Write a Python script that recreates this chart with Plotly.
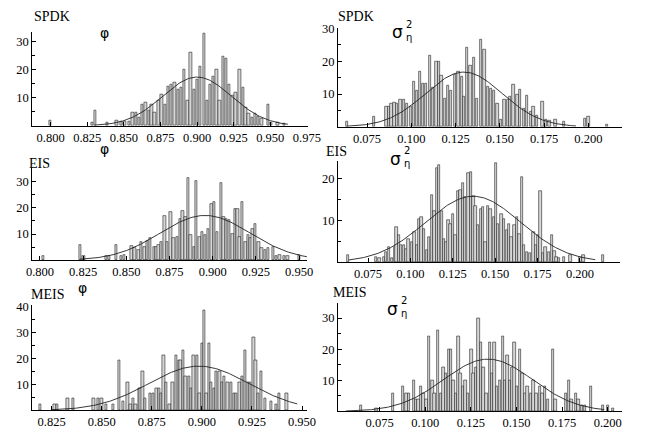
import numpy as np
import plotly.graph_objects as go

W, H = 646, 430

# ---------------- data ----------------
spdk_phi_x = [0.7996, 0.8286, 0.8304, 0.8385, 0.8451, 0.8484, 0.8506, 0.8535, 0.8561, 0.8583,
              0.8605, 0.8627, 0.8649, 0.8671, 0.8689, 0.8711, 0.8737, 0.8759, 0.8781, 0.8803,
              0.8825, 0.8847, 0.8869, 0.8891, 0.8913, 0.8935, 0.8957, 0.8979, 0.9001, 0.9023,
              0.9050, 0.9067, 0.9089, 0.9111, 0.9133, 0.9155, 0.9177, 0.9199, 0.9221, 0.9243,
              0.9265, 0.9292, 0.9314, 0.9331, 0.9353, 0.9375, 0.9397, 0.9419, 0.9441, 0.9485,
              0.9507, 0.9551, 0.9595]
spdk_phi_n = [2.0, 1.0, 5.5, 1.3, 2.0, 1.5, 1.5, 1.5, 4.8, 4.8,
              3.0, 7.7, 8.3, 5.4, 7.7, 4.8, 8.8, 11.0, 7.7, 14.0,
              14.7, 15.2, 13.0, 13.5, 20.0, 8.8, 26.0, 13.0, 16.4, 21.0,
              32.7, 8.8, 14.7, 17.6, 20.0, 8.8, 24.5, 24.0, 14.7, 10.6,
              11.7, 20.0, 13.5, 6.5, 4.2, 3.0, 4.2, 3.3, 2.4, 7.7,
              1.3, 1.3, 0.7]

spdk_s2_x = [0.0635, 0.0787, 0.0860, 0.0872, 0.0887, 0.0905, 0.0920, 0.0938, 0.0960, 0.0975,
             0.0996, 0.1015, 0.1033, 0.1047, 0.1066, 0.1084, 0.1106, 0.1124, 0.1142, 0.1157,
             0.1170, 0.1188, 0.1206, 0.1225, 0.1248, 0.1267, 0.1285, 0.1298, 0.1316, 0.1334,
             0.1352, 0.1371, 0.1394, 0.1413, 0.1431, 0.1449, 0.1467, 0.1486, 0.1507, 0.1526,
             0.1544, 0.1559, 0.1577, 0.1599, 0.1613, 0.1635, 0.1653, 0.1675, 0.1690, 0.1708,
             0.1741, 0.1759, 0.1781, 0.1814, 0.1863, 0.1982, 0.2000, 0.2106]
spdk_s2_n = [1.7, 3.0, 6.0, 6.0, 7.0, 7.4, 7.0, 8.2, 8.4, 7.2,
             6.0, 13.7, 11.0, 16.7, 13.2, 13.2, 21.7, 12.0, 20.0, 20.0,
             15.7, 8.7, 12.7, 11.0, 16.0, 16.7, 15.2, 9.2, 24.2, 18.7,
             21.2, 8.7, 26.7, 23.7, 12.2, 11.7, 11.0, 7.2, 2.2, 8.2,
             8.2, 9.2, 13.0, 9.7, 11.2, 5.4, 9.4, 4.7, 6.2, 3.4,
             7.7, 2.2, 2.0, 2.2, 1.5, 2.4, 3.0, 0.7]

eis_phi_x = [0.8019, 0.8231, 0.8253, 0.8384, 0.8399, 0.8441, 0.8469, 0.8488, 0.8531, 0.8549,
             0.8572, 0.8587, 0.8606, 0.8619, 0.8638, 0.8662, 0.8675, 0.8688, 0.8703, 0.8722,
             0.8737, 0.8756, 0.8774, 0.8793, 0.8812, 0.8827, 0.8844, 0.8857, 0.8872, 0.8891,
             0.8906, 0.8924, 0.8938, 0.8956, 0.8975, 0.8994, 0.9007, 0.9026, 0.9050, 0.9063,
             0.9078, 0.9097, 0.9116, 0.9131, 0.9144, 0.9157, 0.9172, 0.9191, 0.9206, 0.9219,
             0.9232, 0.9247, 0.9266, 0.9284, 0.9303, 0.9322, 0.9350, 0.9369, 0.9388, 0.9412,
             0.9434, 0.9500]
eis_phi_n = [1.7, 5.8, 1.5, 1.7, 1.7, 5.8, 1.5, 2.0, 5.6, 4.6,
             4.0, 7.0, 5.2, 7.4, 8.6, 5.2, 5.2, 5.8, 7.0, 17.0,
             7.0, 18.4, 8.4, 9.0, 15.9, 19.0, 16.5, 31.5, 9.6, 5.0,
             30.2, 9.0, 10.9, 9.6, 11.9, 21.5, 22.1, 10.9, 29.6, 16.5,
             15.6, 15.2, 10.2, 19.6, 19.6, 9.0, 22.1, 7.1, 9.6, 8.4,
             12.1, 14.0, 7.1, 4.6, 4.0, 4.6, 5.2, 1.5, 2.0, 1.5,
             1.7, 2.0]

eis_s2_x = [0.0632, 0.0798, 0.0817, 0.0842, 0.0857, 0.0874, 0.0893, 0.0907, 0.0918, 0.0932,
            0.0945, 0.0960, 0.0976, 0.0989, 0.1008, 0.1023, 0.1037, 0.1052, 0.1065, 0.1079,
            0.1098, 0.1109, 0.1128, 0.1142, 0.1155, 0.1170, 0.1186, 0.1199, 0.1212, 0.1224,
            0.1237, 0.1251, 0.1266, 0.1281, 0.1295, 0.1308, 0.1323, 0.1342, 0.1358, 0.1371,
            0.1384, 0.1400, 0.1415, 0.1428, 0.1442, 0.1457, 0.1472, 0.1491, 0.1505, 0.1518,
            0.1537, 0.1553, 0.1568, 0.1581, 0.1595, 0.1614, 0.1629, 0.1644, 0.1658, 0.1671,
            0.1686, 0.1706, 0.1725, 0.1740, 0.1753, 0.1767, 0.1782, 0.1797, 0.1816, 0.1835,
            0.1849, 0.1862, 0.1878, 0.1906, 0.1944, 0.2002, 0.2021, 0.2136]
eis_s2_n = [1.7, 1.3, 1.0, 1.3, 2.4, 3.5, 1.0, 3.5, 8.4, 6.6,
            4.2, 4.1, 3.1, 5.6, 4.9, 7.2, 4.1, 10.4, 10.7, 8.0,
            2.9, 6.0, 16.2, 12.3, 22.5, 23.3, 12.3, 5.6, 4.9, 10.0,
            9.2, 11.5, 6.6, 17.0, 17.4, 19.0, 15.5, 21.3, 21.7, 15.8,
            13.5, 8.8, 12.7, 13.1, 4.9, 13.5, 12.7, 10.7, 23.7, 9.2,
            11.5, 10.4, 7.6, 9.2, 6.0, 8.8, 10.7, 6.8, 20.5, 4.1,
            2.5, 2.1, 7.2, 4.1, 6.4, 17.0, 2.1, 3.7, 2.5, 6.4,
            2.7, 1.3, 1.0, 1.3, 1.6, 1.3, 1.7, 1.7]

meis_phi_x = [0.8194, 0.8266, 0.8279, 0.8331, 0.8358, 0.8460, 0.8484, 0.8500, 0.8524, 0.8556,
              0.8589, 0.8608, 0.8629, 0.8645, 0.8657, 0.8669, 0.8686, 0.8694, 0.8705, 0.8718,
              0.8742, 0.8758, 0.8774, 0.8786, 0.8798, 0.8810, 0.8823, 0.8839, 0.8855, 0.8871,
              0.8887, 0.8895, 0.8908, 0.8919, 0.8936, 0.8947, 0.8960, 0.8976, 0.8989, 0.9000,
              0.9011, 0.9024, 0.9036, 0.9048, 0.9060, 0.9073, 0.9089, 0.9102, 0.9113, 0.9129,
              0.9145, 0.9161, 0.9173, 0.9189, 0.9202, 0.9218, 0.9231, 0.9242, 0.9258, 0.9269,
              0.9282, 0.9295, 0.9315, 0.9347, 0.9371, 0.9387, 0.9424]
meis_phi_n = [2.2, 2.2, 2.2, 4.5, 4.5, 4.5, 4.5, 4.5, 2.5, 2.5,
              19.1, 3.5, 10.7, 2.5, 4.5, 2.5, 8.5, 8.5, 15.0, 4.5,
              6.6, 6.6, 8.5, 8.5, 6.6, 21.2, 10.7, 2.2, 10.7, 21.2,
              19.1, 19.1, 23.2, 12.9, 12.9, 8.5, 21.2, 21.2, 6.6, 25.7,
              38.5, 6.6, 25.7, 10.7, 8.5, 15.0, 15.0, 10.7, 12.9, 10.7,
              10.7, 6.6, 6.6, 10.7, 12.9, 23.2, 10.7, 10.7, 27.9, 19.1,
              6.6, 15.0, 4.5, 3.5, 2.2, 6.6, 6.6]

meis_s2_x = [0.0649, 0.0732, 0.0821, 0.0879, 0.0897, 0.0911, 0.0936, 0.0950, 0.0963, 0.0975,
             0.0989, 0.1007, 0.1021, 0.1039, 0.1051, 0.1069, 0.1087, 0.1099, 0.1113, 0.1128,
             0.1140, 0.1154, 0.1167, 0.1181, 0.1193, 0.1206, 0.1220, 0.1234, 0.1252, 0.1264,
             0.1277, 0.1291, 0.1305, 0.1319, 0.1335, 0.1353, 0.1365, 0.1379, 0.1394, 0.1408,
             0.1426, 0.1438, 0.1450, 0.1465, 0.1477, 0.1489, 0.1504, 0.1518, 0.1532, 0.1548,
             0.1560, 0.1578, 0.1592, 0.1610, 0.1628, 0.1642, 0.1656, 0.1672, 0.1699, 0.1713,
             0.1769, 0.1787, 0.1801, 0.1826, 0.1840, 0.1858, 0.1876, 0.1908, 0.1973, 0.2000,
             0.2027]
meis_s2_n = [1.9, 1.0, 5.8, 7.9, 5.8, 5.8, 10.0, 3.7, 3.7, 7.9,
             5.8, 3.7, 24.0, 10.0, 5.8, 26.1, 5.8, 14.2, 12.1, 20.0,
             20.0, 10.0, 5.8, 24.0, 12.1, 7.9, 10.0, 5.8, 20.0, 12.1,
             14.2, 30.0, 22.1, 14.2, 5.8, 22.1, 12.1, 22.1, 7.9, 10.0,
             24.0, 10.0, 17.9, 10.0, 14.2, 22.1, 7.9, 20.0, 12.1, 5.8,
             7.9, 5.8, 10.0, 5.8, 7.9, 5.8, 7.9, 3.7, 20.0, 3.7,
             5.8, 10.0, 3.7, 5.8, 3.7, 1.9, 1.9, 7.9, 1.9, 1.9,
             1.0]

# fitted normal curves: mean, std, peak height, x-start, x-end
fit_mean = [0.9000, 0.1297, 0.8956, 0.1370, 0.8985, 0.1344]
fit_std = [0.0235, 0.0217, 0.0260, 0.0280, 0.0250, 0.0244]
fit_peak = [17.3, 16.7, 17.1, 15.8, 17.0, 16.8]
fit_x0 = [0.830, 0.0635, 0.823, 0.0635, 0.825, 0.0564]
fit_x1 = [0.962, 0.193, 0.955, 0.209, 0.9476, 0.198]

method_labels = ["SPDK", "SPDK", "EIS", "EIS", "MEIS", "MEIS"]

xs = [spdk_phi_x, spdk_s2_x, eis_phi_x, eis_s2_x, meis_phi_x, meis_s2_x]
ns = [spdk_phi_n, spdk_s2_n, eis_phi_n, eis_s2_n, meis_phi_n, meis_s2_n]

# ---------------- layout helpers (pixel geometry) ----------------
def px_x(p):
    return p / W

def px_y(p):
    return 1 - p / H

def rng(lo_px, hi_px, v1, p1, v2, p2):
    k = (v2 - v1) / (p2 - p1)
    return [v1 + (lo_px - p1) * k, v1 + (hi_px - p1) * k]

# x: (left px, right px, tick v1, px1, tick v2, px2); y: (bottom px, top px, v1, px1, v2, px2)
geo = [
    dict(x=(27, 311, 0.800, 46, 0.975, 310), y=(122, 26, 0, 122, 30, 36),
         xt=[0.800, 0.825, 0.850, 0.875, 0.900, 0.925, 0.950, 0.975], yt=[10, 20, 30], bw=0.00160),
    dict(x=(342, 635, 0.075, 372, 0.200, 600), y=(123, 22, 0, 123, 30, 23),
         xt=[0.075, 0.100, 0.125, 0.150, 0.175, 0.200], yt=[10, 20, 30], bw=0.00130),
    dict(x=(27, 310, 0.800, 35, 0.950, 302), y=(259, 165, 0, 259, 30, 179),
         xt=[0.800, 0.825, 0.850, 0.875, 0.900, 0.925, 0.950], yt=[10, 20, 30], bw=0.00135),
    dict(x=(342, 633, 0.075, 373, 0.225, 635), y=(261, 158, 0, 261, 20, 176),
         xt=[0.075, 0.100, 0.125, 0.150, 0.175, 0.200, 0.225], yt=[10, 20], bw=0.00137),
    dict(x=(27, 310, 0.825, 47, 0.950, 305), y=(412, 305, 0, 412, 40, 306),
         xt=[0.825, 0.850, 0.875, 0.900, 0.925, 0.950], yt=[10, 20, 30, 40], bw=0.00116),
    dict(x=(342, 635, 0.075, 385, 0.200, 620), y=(413, 303, 0, 413, 30, 318),
         xt=[0.075, 0.100, 0.125, 0.150, 0.175, 0.200], yt=[10, 20, 30], bw=0.00128),
]

FONT = "Liberation Serif, Times New Roman, serif"

fig = go.Figure()
layout = dict(
    width=W, height=H, margin=dict(l=0, r=0, t=0, b=0),
    paper_bgcolor="white", plot_bgcolor="white", showlegend=False,
    bargap=0, barmode="overlay",
    font=dict(family=FONT, size=12, color="black"),
)

for i in range(6):
    g = geo[i]
    sfx = "" if i == 0 else str(i + 1)
    xa, ya = "x" + sfx, "y" + sfx
    fig.add_trace(go.Bar(
        x=xs[i], y=ns[i], width=g["bw"], xaxis=xa, yaxis=ya,
        marker=dict(color="#d6d6d6", line=dict(color="#222222", width=0.6)),
        hoverinfo="skip"))
    cx = np.linspace(fit_x0[i], fit_x1[i], 200)
    cy = fit_peak[i] * np.exp(-0.5 * ((cx - fit_mean[i]) / fit_std[i]) ** 2)
    fig.add_trace(go.Scatter(x=cx, y=cy, mode="lines", xaxis=xa, yaxis=ya,
                             line=dict(color="#222222", width=0.9), hoverinfo="skip"))
    xl, xr = g["x"][0], g["x"][1]
    yb, yt = g["y"][0], g["y"][1]
    layout["xaxis" + sfx] = dict(
        domain=[px_x(xl), px_x(xr)], range=rng(*g["x"]), anchor=ya,
        showline=True, linecolor="black", linewidth=1, mirror=False,
        showgrid=False, zeroline=False,
        tickmode="array", tickvals=g["xt"], ticktext=["%.3f" % v for v in g["xt"]],
        ticks="inside", ticklen=4, tickcolor="black", tickwidth=1,
        tickfont=dict(family=FONT, size=12.5, color="black"),
    )
    layout["yaxis" + sfx] = dict(
        domain=[px_y(yb), px_y(yt)], range=rng(yb, yt, *g["y"][2:]), anchor=xa,
        showline=True, linecolor="black", linewidth=1, mirror=False,
        showgrid=False, zeroline=False,
        tickmode="array", tickvals=g["yt"], ticktext=[str(v) for v in g["yt"]],
        ticks="inside", ticklen=4, tickcolor="black", tickwidth=1,
        minor=dict(ticks="inside", ticklen=3, tickcolor="black", dtick=5, tick0=0),
        tickfont=dict(family=FONT, size=12.5, color="black"),
    )

fig.update_layout(**layout)

def ann(text, x, y, size, family=FONT):
    fig.add_annotation(text=text, x=px_x(x), y=px_y(y), xref="paper", yref="paper",
                       showarrow=False, xanchor="center", yanchor="middle",
                       borderpad=0,
                       font=dict(family=family, size=size, color="black"))

method_pos = [(47, 11), (361, 11), (35, 160), (341, 148), (43, 294), (354, 292)]
for lab, (x, y) in zip(method_labels, method_pos):
    ann(lab, x, y, 14)

SANS = "DejaVu Sans, sans-serif"
for (x, y) in [(101, 28), (101, 146), (79, 287)]:
    ann("φ", x, y, 14, SANS)

for (x, y) in [(403, 27), (401, 156), (398, 309)]:
    ann("σ", x, y, 17, SANS)
    ann("2<br>η", x + 12, y - 2, 10, SANS)

fig.write_html("out.html")
